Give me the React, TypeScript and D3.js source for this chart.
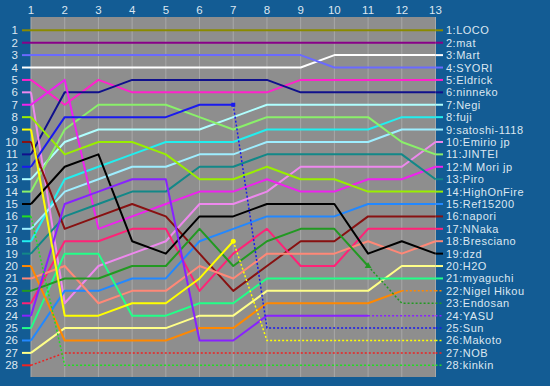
import React from 'react';
import * as d3 from 'd3';

const rounds = [1, 2, 3, 4, 5, 6, 7, 8, 9, 10, 11, 12, 13];
const rankTicks = [1, 2, 3, 4, 5, 6, 7, 8, 9, 10, 11, 12, 13, 14, 15, 16, 17, 18, 19, 20, 21, 22, 23, 24, 25, 26, 27, 28];

// players in final order
const players = [
  'LOCO', 'mat', 'Mart', 'SYORI', 'Eldrick', 'ninneko', 'Negi', 'fuji',
  'satoshi-1118', 'Emirio jp', 'JINTEI', 'M Mori jp', 'Piro', 'HighOnFire',
  'Ref15200', 'napori', 'NNaka', 'Bresciano', 'dzd', 'H2O', 'myaguchi',
  'Nigel Hikou', 'Endosan', 'YASU', 'Sun', 'Makoto', 'NOB', 'kinkin',
];

const colors = [
  '#8a8a00', '#880088', '#ffffff', '#6a6aff', '#ff22cc', '#10108c', '#b0ffff', '#22eeee',
  '#9eeeff', '#ee88ee', '#8af06a', '#ee22ee', '#128888', '#99ee00',
  '#2288ff', '#881111', '#ff2277', '#ff8877', '#000000', '#ffff88', '#22ff88',
  '#ff8800', '#229922', '#8822ff', '#1a1aee', '#ffff00', '#ee2222', '#22dd22',
];

// rank after each round, one row per player
const ranks = [
  [1, 1, 1, 1, 1, 1, 1, 1, 1, 1, 1, 1, 1],
  [2, 2, 2, 2, 2, 2, 2, 2, 2, 2, 2, 2, 2],
  [4, 4, 4, 4, 4, 4, 4, 4, 4, 3, 3, 3, 3],
  [3, 3, 3, 3, 3, 3, 3, 3, 3, 4, 4, 4, 4],
  [5, 7, 5, 6, 6, 6, 6, 6, 5, 5, 5, 5, 5],
  [11, 6, 6, 5, 5, 5, 5, 5, 6, 6, 6, 6, 6],
  [13, 10, 9, 9, 9, 9, 8, 7, 7, 7, 7, 7, 7],
  [18, 13, 12, 11, 10, 10, 10, 9, 9, 9, 9, 8, 8],
  [17, 14, 13, 12, 12, 11, 11, 10, 10, 10, 10, 9, 9],
  [6, 23, 20, 19, 18, 15, 15, 14, 12, 12, 12, 12, 10],
  [14, 9, 7, 7, 7, 8, 9, 8, 8, 8, 8, 10, 11],
  [7, 5, 17, 16, 15, 14, 14, 13, 14, 14, 13, 13, 12],
  [19, 16, 15, 14, 14, 12, 12, 11, 11, 11, 11, 11, 13],
  [8, 11, 10, 10, 11, 13, 13, 12, 13, 13, 14, 14, 14],
  [26, 22, 22, 21, 21, 18, 17, 16, 16, 16, 15, 15, 15],
  [10, 17, 16, 15, 16, 19, 22, 20, 18, 18, 16, 16, 16],
  [23, 18, 18, 17, 17, 22, 19, 17, 20, 20, 17, 17, 17],
  [21, 20, 23, 22, 22, 20, 21, 19, 19, 19, 18, 19, 18],
  [15, 12, 11, 18, 19, 16, 16, 15, 15, 15, 19, 18, 19],
  [27, 25, 25, 25, 25, 24, 24, 22, 22, 22, 22, 20, 20],
  [25, 19, 19, 24, 24, 23, 23, 21, 21, 21, 21, 21, 21],
  [20, 26, 26, 26, 26, 25, 25, 23, 23, 23, 23, 22, 22],
  [22, 21, 21, 20, 20, 17, 20, 18, 17, 17, 20, 23, 23],
  [24, 15, 14, 13, 13, 26, 26, 24, 24, 24, 24, 24, 24],
  [12, 8, 8, 8, 8, 7, 7, 25, 25, 25, 25, 25, 25],
  [9, 24, 24, 23, 23, 21, 18, 26, 26, 26, 26, 26, 26],
  [28, 27, 27, 27, 27, 27, 27, 27, 27, 27, 27, 27, 27],
  [16, 28, 28, 28, 28, 28, 28, 28, 28, 28, 28, 28, 28],
];

// last round each player took part in (dotted after it)
const lastRound = [13, 13, 13, 13, 13, 13, 13, 13, 13, 13, 13, 13, 13, 13, 13, 13, 13, 13, 13, 13, 13, 12, 11, 11, 7, 7, 1, 1];

const W = 550;
const H = 386;
const plot = { left: 31, right: 435.5, top: 17, bottom: 377 };
const textColor = '#dce7f1';
const font = '"Liberation Sans", Arial, sans-serif';

export default function App() {
  const x = d3.scaleLinear().domain([1, 13]).range([plot.left, plot.right]);
  const y = d3.scaleLinear().domain([1, 28]).range([30.3, 365.3]);

  const line = d3.line<[number, number]>()
    .x(d => x(d[0]))
    .y(d => y(d[1]));

  return (
    <svg width={W} height={H} style={{ position: 'absolute', left: 0, top: 0 }} fontFamily={font}>
      <rect x={0} y={0} width={W} height={H} fill="#135c94" />
      <rect x={plot.left} y={plot.top} width={plot.right - plot.left} height={plot.bottom - plot.top} fill="#8e8e8e" />

      {rounds.map(r => (
        <g key={'g' + r}>
          <line x1={x(r)} x2={x(r)} y1={plot.top} y2={plot.bottom} stroke="#a8a8a8" strokeWidth={1} />
          <text x={x(r)} y={10} fill={textColor} fontSize={11.5} textAnchor="middle" dominantBaseline="central">{r}</text>
        </g>
      ))}

      {rankTicks.map(t => (
        <text key={'l' + t} x={18} y={y(t)} fill={textColor} fontSize={11.5} textAnchor="end" dominantBaseline="central">{t}</text>
      ))}

      {players.map((p, i) => {
        const pts: [number, number][] = ranks[i].map((v, j) => [rounds[j], v]);
        const last = lastRound[i];
        const solid = pts.slice(0, last);
        const dotted = pts.slice(last - 1);
        return (
          <g key={p}>
            <line x1={22} x2={plot.left} y1={y(ranks[i][0])} y2={y(ranks[i][0])} stroke={colors[i]} strokeWidth={2} />
            {last < 13 && (
              <path d={line(dotted) || ''} fill="none" stroke={colors[i]} strokeWidth={1.5} strokeDasharray="2,2" />
            )}
            {solid.length > 1 && (
              <path d={line(solid) || ''} fill="none" stroke={colors[i]} strokeWidth={2} strokeLinejoin="round" />
            )}
            <line x1={plot.right} x2={443} y1={y(i + 1)} y2={y(i + 1)} stroke={colors[i]}
              strokeWidth={last < 13 ? 1.5 : 2} strokeDasharray={last < 13 ? '2,2' : undefined} />
            <text x={446} y={y(i + 1)} fill={textColor} fontSize={11} letterSpacing={0.5} dominantBaseline="central">{`${i + 1}:${p}`}</text>
          </g>
        );
      })}

      {/* end markers for players who dropped out */}
      <rect x={x(7) - 2} y={y(ranks[24][6]) - 2} width={4} height={4} fill={colors[24]} />
      <circle cx={x(7)} cy={y(ranks[25][6])} r={2.5} fill={colors[25]} />
      <path d={d3.symbol(d3.symbolTriangle, 20)() || ''} transform={`translate(${x(11)},${y(ranks[22][10])})`} fill={colors[22]} />
    </svg>
  );
}
